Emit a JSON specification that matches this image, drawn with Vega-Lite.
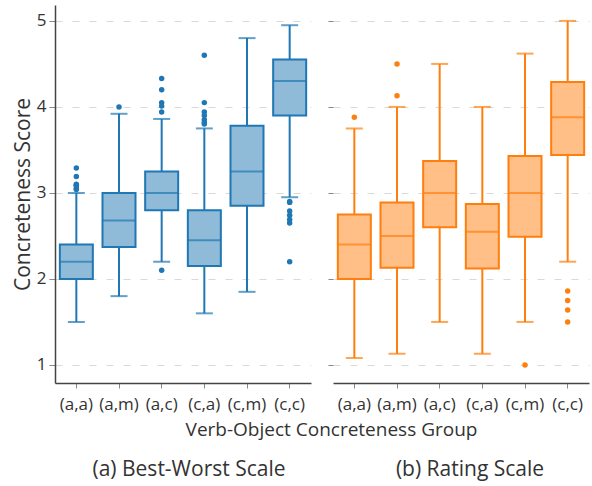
{
  "$schema": "https://vega.github.io/schema/vega-lite/v6.json",
  "padding": {"left": 12, "top": 5, "right": 2, "bottom": 2},
  "bounds": "flush",
  "spacing": 22,
  "config": {
    "view": {"stroke": null},
    "font": "Open Sans",
    "axis": {"labelFont": "Open Sans", "titleFont": "Open Sans", "titleFontWeight": "normal", "labelColor": "#333", "titleColor": "#333", "labelFontSize": 17, "titleFontSize": 19, "tickColor": "#888", "domainColor": "#444", "gridDash": [7, 10], "gridColor": "#d9d9d9"},
    "title": {"font": "Open Sans", "fontWeight": "normal", "fontSize": 21, "color": "#333"}
  },
  "datasets": {
    "boxes": [
      {"panel": "BW", "group": "(a,a)", "lower": 1.5, "q1": 2.0, "median": 2.2, "q3": 2.4, "upper": 3.0},
      {"panel": "BW", "group": "(a,m)", "lower": 1.8, "q1": 2.37, "median": 2.68, "q3": 3.0, "upper": 3.92},
      {"panel": "BW", "group": "(a,c)", "lower": 2.2, "q1": 2.8, "median": 3.0, "q3": 3.25, "upper": 3.86},
      {"panel": "BW", "group": "(c,a)", "lower": 1.6, "q1": 2.15, "median": 2.45, "q3": 2.8, "upper": 3.75},
      {"panel": "BW", "group": "(c,m)", "lower": 1.85, "q1": 2.85, "median": 3.25, "q3": 3.78, "upper": 4.8},
      {"panel": "BW", "group": "(c,c)", "lower": 2.95, "q1": 3.9, "median": 4.3, "q3": 4.55, "upper": 4.95},
      {"panel": "R", "group": "(a,a)", "lower": 1.08, "q1": 2.0, "median": 2.4, "q3": 2.75, "upper": 3.75},
      {"panel": "R", "group": "(a,m)", "lower": 1.13, "q1": 2.13, "median": 2.5, "q3": 2.89, "upper": 4.0},
      {"panel": "R", "group": "(a,c)", "lower": 1.5, "q1": 2.6, "median": 3.0, "q3": 3.37, "upper": 4.5},
      {"panel": "R", "group": "(c,a)", "lower": 1.13, "q1": 2.12, "median": 2.55, "q3": 2.87, "upper": 4.0},
      {"panel": "R", "group": "(c,m)", "lower": 1.5, "q1": 2.49, "median": 3.0, "q3": 3.43, "upper": 4.62},
      {"panel": "R", "group": "(c,c)", "lower": 2.2, "q1": 3.44, "median": 3.88, "q3": 4.29, "upper": 5.0}
    ],
    "outliers": [
      {"panel": "BW", "group": "(a,a)", "value": 3.29},
      {"panel": "BW", "group": "(a,a)", "value": 3.19},
      {"panel": "BW", "group": "(a,a)", "value": 3.1},
      {"panel": "BW", "group": "(a,a)", "value": 3.09},
      {"panel": "BW", "group": "(a,a)", "value": 3.08},
      {"panel": "BW", "group": "(a,a)", "value": 3.05},
      {"panel": "BW", "group": "(a,a)", "value": 3.04},
      {"panel": "BW", "group": "(a,m)", "value": 4.0},
      {"panel": "BW", "group": "(a,c)", "value": 4.33},
      {"panel": "BW", "group": "(a,c)", "value": 4.2},
      {"panel": "BW", "group": "(a,c)", "value": 4.05},
      {"panel": "BW", "group": "(a,c)", "value": 4.01},
      {"panel": "BW", "group": "(a,c)", "value": 3.94},
      {"panel": "BW", "group": "(a,c)", "value": 2.1},
      {"panel": "BW", "group": "(c,a)", "value": 4.6},
      {"panel": "BW", "group": "(c,a)", "value": 4.05},
      {"panel": "BW", "group": "(c,a)", "value": 3.94},
      {"panel": "BW", "group": "(c,a)", "value": 3.9},
      {"panel": "BW", "group": "(c,a)", "value": 3.85},
      {"panel": "BW", "group": "(c,a)", "value": 3.82},
      {"panel": "BW", "group": "(c,a)", "value": 3.8},
      {"panel": "BW", "group": "(c,c)", "value": 2.9},
      {"panel": "BW", "group": "(c,c)", "value": 2.89},
      {"panel": "BW", "group": "(c,c)", "value": 2.79},
      {"panel": "BW", "group": "(c,c)", "value": 2.74},
      {"panel": "BW", "group": "(c,c)", "value": 2.69},
      {"panel": "BW", "group": "(c,c)", "value": 2.65},
      {"panel": "BW", "group": "(c,c)", "value": 2.2},
      {"panel": "R", "group": "(a,a)", "value": 3.88},
      {"panel": "R", "group": "(a,m)", "value": 4.5},
      {"panel": "R", "group": "(a,m)", "value": 4.13},
      {"panel": "R", "group": "(c,m)", "value": 1.0},
      {"panel": "R", "group": "(c,c)", "value": 1.86},
      {"panel": "R", "group": "(c,c)", "value": 1.75},
      {"panel": "R", "group": "(c,c)", "value": 1.64},
      {"panel": "R", "group": "(c,c)", "value": 1.5}
    ]
  },
  "hconcat": [
    {
      "width": 256,
      "height": 378,
      "title": {"text": "(a) Best-Worst Scale", "orient": "bottom", "offset": 20, "dx": 6},
      "layer": [
        {
          "data": {"name": "boxes"},
          "transform": [{"filter": "datum.panel === 'BW'"}],
          "mark": {"type": "rule", "color": "#1f77b4", "strokeWidth": 2},
          "encoding": {
            "x": {"field": "group", "type": "nominal", "title": "Verb-Object Concreteness Group", "scale": {"domain": ["(a,a)", "(a,m)", "(a,c)", "(c,a)", "(c,m)", "(c,c)"], "paddingInner": 0, "paddingOuter": 0},
              "axis": {"titleX": 276, "titleAlign": "center", "labelAngle": 0, "tickSize": 5, "labelPadding": 8, "titlePadding": 8, "domainWidth": 1.5}},
            "y": {"field": "lower", "type": "quantitative", "title": "Concreteness Score", "scale": {"domain": [0.79, 5.185], "nice": false, "zero": false},
              "axis": {"values": [1, 2, 3, 4, 5], "format": "d", "tickSize": 6, "labelPadding": 3, "titlePadding": 3, "titleFontSize": 21, "domainWidth": 1.5}},
            "y2": {"field": "upper"}
          }
        },
        {
          "data": {"name": "boxes"},
          "transform": [{"filter": "datum.panel === 'BW'"}],
          "mark": {"type": "tick", "color": "#1f77b4", "size": 17, "thickness": 2, "orient": "horizontal"},
          "encoding": {
            "x": {"field": "group", "type": "nominal", "title": "Verb-Object Concreteness Group"},
            "y": {"field": "lower", "type": "quantitative", "title": "Concreteness Score"}
          }
        },
        {
          "data": {"name": "boxes"},
          "transform": [{"filter": "datum.panel === 'BW'"}],
          "mark": {"type": "tick", "color": "#1f77b4", "size": 17, "thickness": 2, "orient": "horizontal"},
          "encoding": {
            "x": {"field": "group", "type": "nominal", "title": "Verb-Object Concreteness Group"},
            "y": {"field": "upper", "type": "quantitative", "title": "Concreteness Score"}
          }
        },
        {
          "data": {"name": "boxes"},
          "transform": [{"filter": "datum.panel === 'BW'"}],
          "mark": {"type": "bar", "fill": "#8fbbd9", "stroke": "#1f77b4", "strokeWidth": 2, "size": 33},
          "encoding": {
            "x": {"field": "group", "type": "nominal", "title": "Verb-Object Concreteness Group"},
            "y": {"field": "q1", "type": "quantitative", "title": "Concreteness Score"},
            "y2": {"field": "q3"}
          }
        },
        {
          "data": {"name": "boxes"},
          "transform": [{"filter": "datum.panel === 'BW'"}],
          "mark": {"type": "tick", "color": "#1f77b4", "size": 33, "thickness": 2, "orient": "horizontal"},
          "encoding": {
            "x": {"field": "group", "type": "nominal", "title": "Verb-Object Concreteness Group"},
            "y": {"field": "median", "type": "quantitative", "title": "Concreteness Score"}
          }
        },
        {
          "data": {"name": "outliers"},
          "transform": [{"filter": "datum.panel === 'BW'"}],
          "mark": {"type": "point", "filled": true, "color": "#1f77b4", "size": 30, "opacity": 1},
          "encoding": {
            "x": {"field": "group", "type": "nominal", "title": "Verb-Object Concreteness Group"},
            "y": {"field": "value", "type": "quantitative", "title": "Concreteness Score"}
          }
        }
      ]
    },
    {
      "width": 256,
      "height": 378,
      "title": {"text": "(b) Rating Scale", "orient": "bottom", "offset": 20, "dx": 9},
      "layer": [
        {
          "data": {"name": "boxes"},
          "transform": [{"filter": "datum.panel === 'R'"}],
          "mark": {"type": "rule", "color": "#ff7f0e", "strokeWidth": 2},
          "encoding": {
            "x": {"field": "group", "type": "nominal", "title": " ", "scale": {"domain": ["(a,a)", "(a,m)", "(a,c)", "(c,a)", "(c,m)", "(c,c)"], "paddingInner": 0, "paddingOuter": 0},
              "axis": {"labelAngle": 0, "tickSize": 5, "labelPadding": 8, "titlePadding": 8, "domainWidth": 1.5}},
            "y": {"field": "lower", "type": "quantitative", "title": null, "scale": {"domain": [0.79, 5.185], "nice": false, "zero": false},
              "axis": {"values": [1, 2, 3, 4, 5], "labels": false, "domain": false, "tickSize": 5}},
            "y2": {"field": "upper"}
          }
        },
        {
          "data": {"name": "boxes"},
          "transform": [{"filter": "datum.panel === 'R'"}],
          "mark": {"type": "tick", "color": "#ff7f0e", "size": 17, "thickness": 2, "orient": "horizontal"},
          "encoding": {
            "x": {"field": "group", "type": "nominal", "title": " "},
            "y": {"field": "lower", "type": "quantitative", "title": null}
          }
        },
        {
          "data": {"name": "boxes"},
          "transform": [{"filter": "datum.panel === 'R'"}],
          "mark": {"type": "tick", "color": "#ff7f0e", "size": 17, "thickness": 2, "orient": "horizontal"},
          "encoding": {
            "x": {"field": "group", "type": "nominal", "title": " "},
            "y": {"field": "upper", "type": "quantitative", "title": null}
          }
        },
        {
          "data": {"name": "boxes"},
          "transform": [{"filter": "datum.panel === 'R'"}],
          "mark": {"type": "bar", "fill": "#ffbf87", "stroke": "#ff7f0e", "strokeWidth": 2, "size": 33},
          "encoding": {
            "x": {"field": "group", "type": "nominal", "title": " "},
            "y": {"field": "q1", "type": "quantitative", "title": null},
            "y2": {"field": "q3"}
          }
        },
        {
          "data": {"name": "boxes"},
          "transform": [{"filter": "datum.panel === 'R'"}],
          "mark": {"type": "tick", "color": "#ff7f0e", "size": 33, "thickness": 2, "orient": "horizontal"},
          "encoding": {
            "x": {"field": "group", "type": "nominal", "title": " "},
            "y": {"field": "median", "type": "quantitative", "title": null}
          }
        },
        {
          "data": {"name": "outliers"},
          "transform": [{"filter": "datum.panel === 'R'"}],
          "mark": {"type": "point", "filled": true, "color": "#ff7f0e", "size": 30, "opacity": 1},
          "encoding": {
            "x": {"field": "group", "type": "nominal", "title": " "},
            "y": {"field": "value", "type": "quantitative", "title": null}
          }
        }
      ]
    }
  ]
}
